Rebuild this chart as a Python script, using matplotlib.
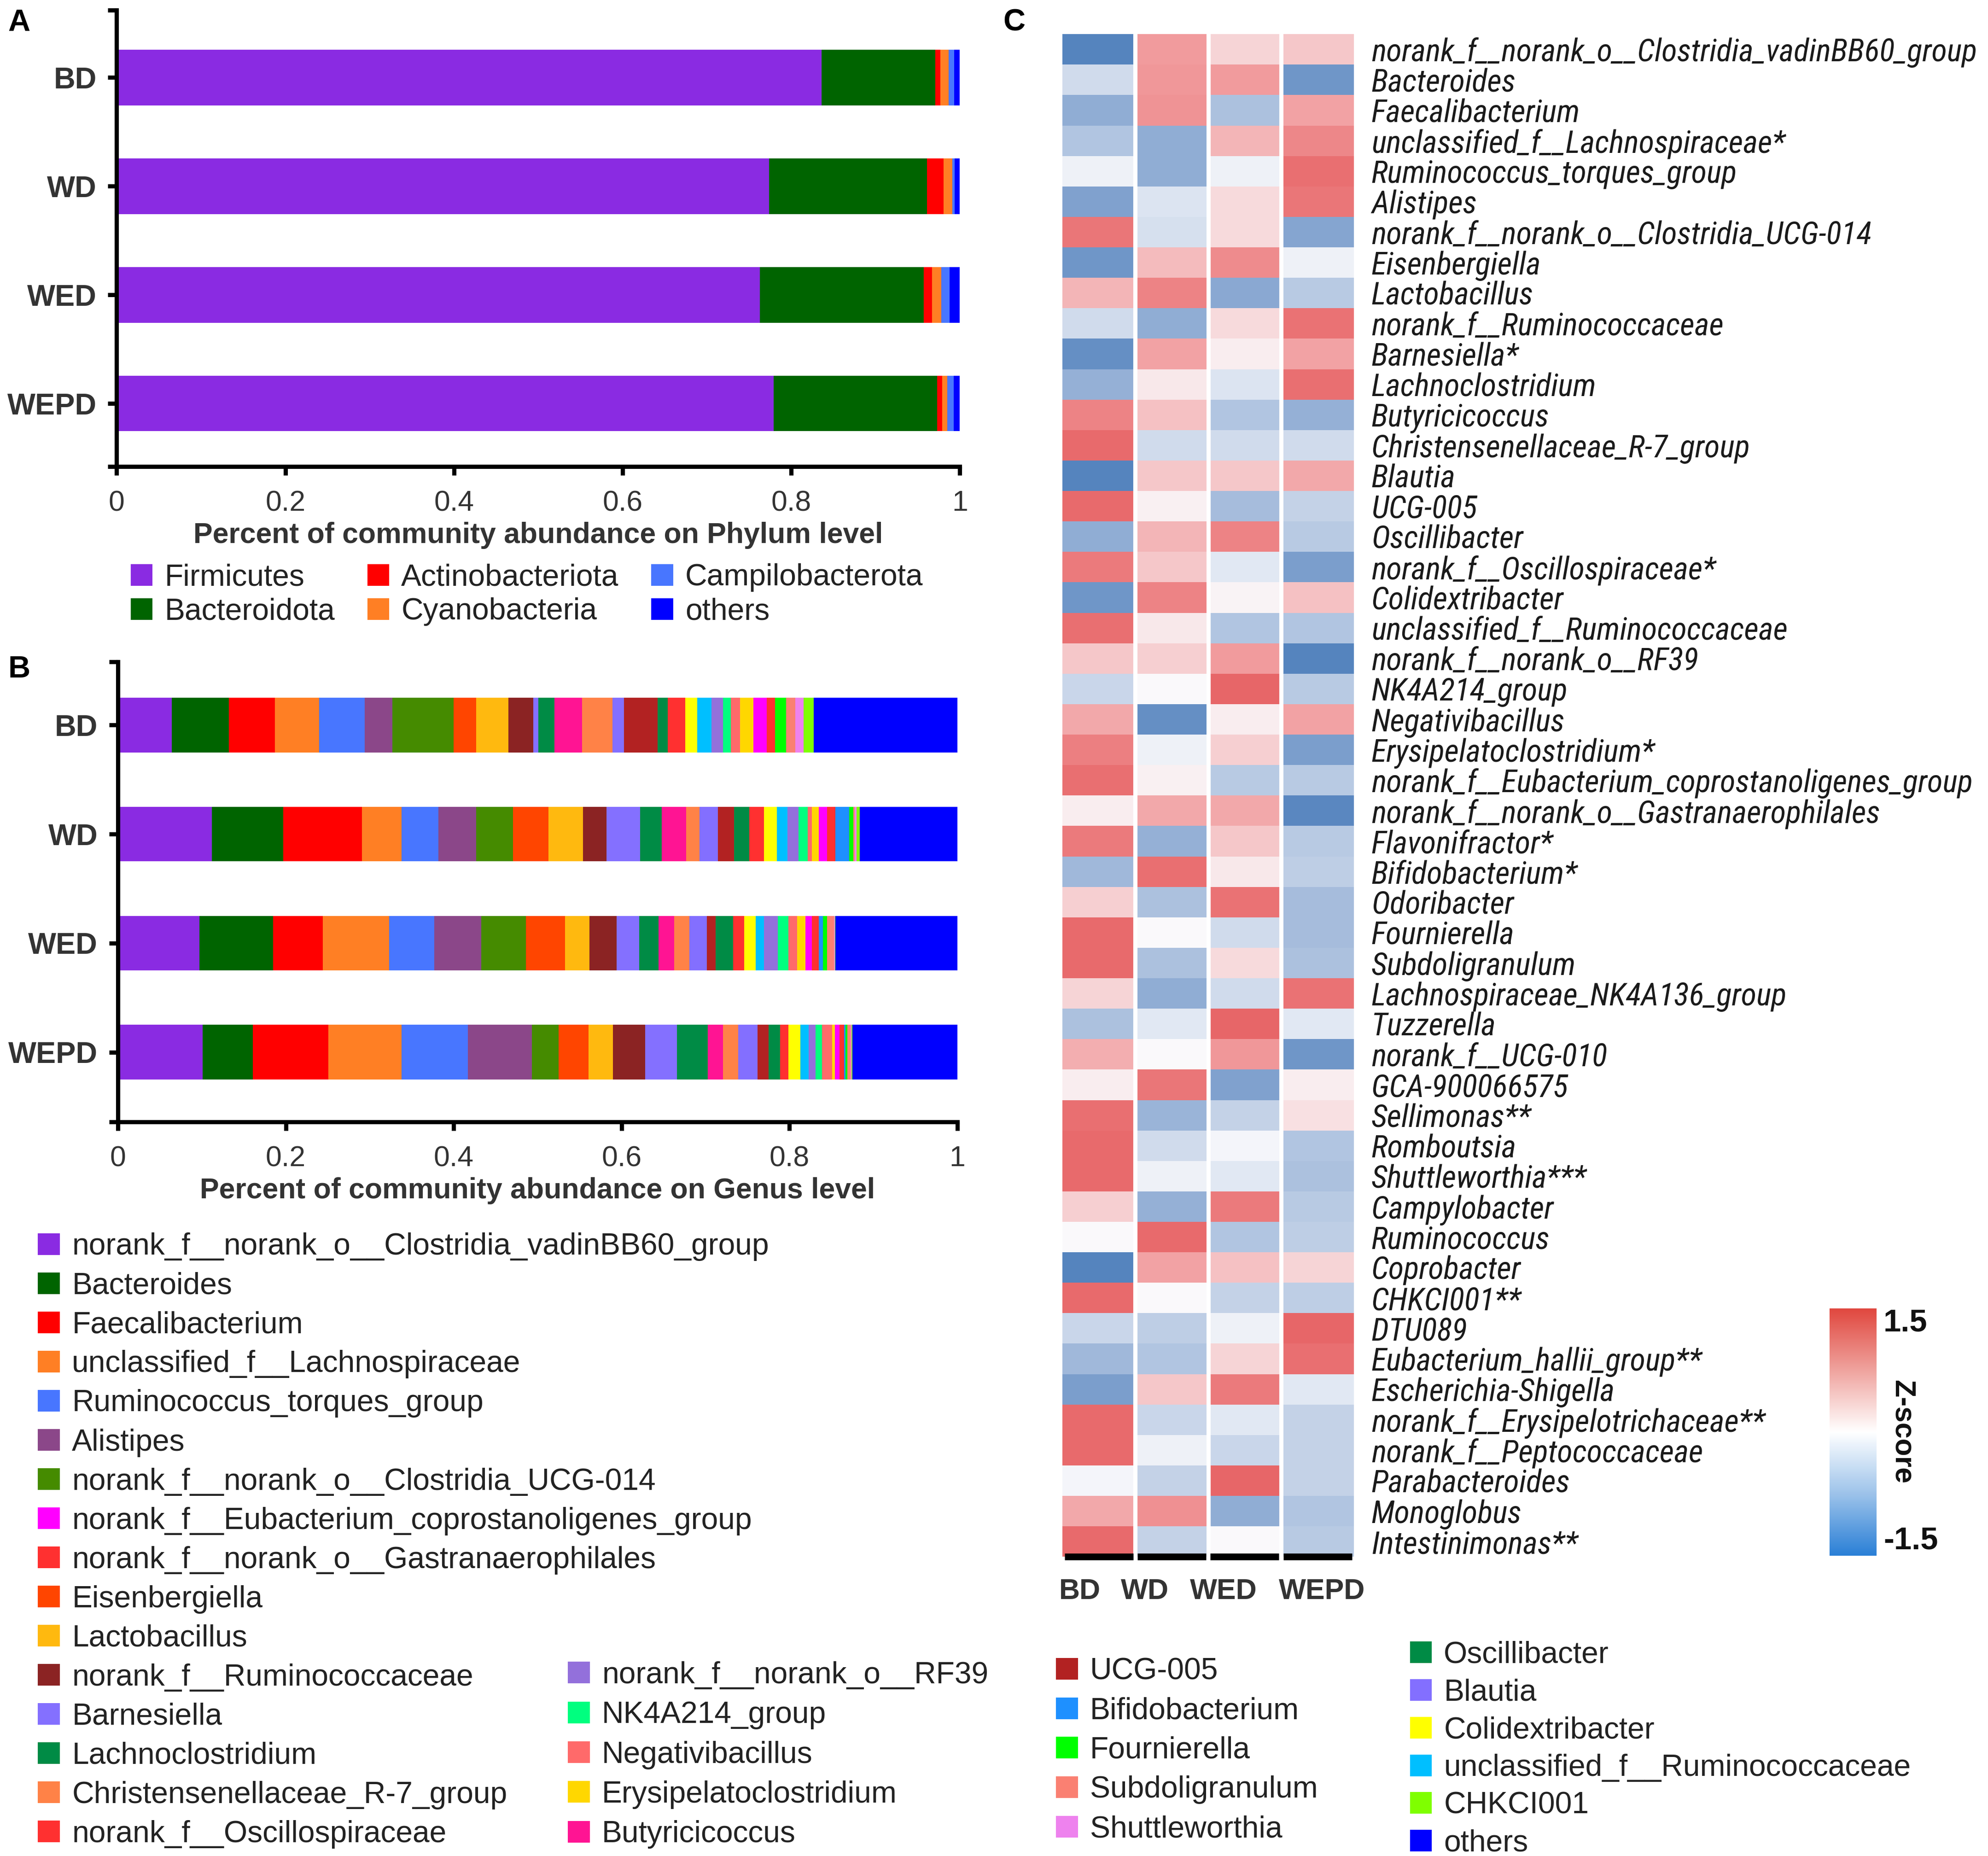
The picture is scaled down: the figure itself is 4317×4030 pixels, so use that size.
import matplotlib
matplotlib.use('Agg')
import matplotlib.pyplot as plt
import numpy as np
from matplotlib.patches import Patch
from matplotlib.colors import LinearSegmentedColormap, Normalize
from matplotlib.cm import ScalarMappable
from matplotlib.textpath import TextPath
from matplotlib import font_manager

plt.rcParams['font.family'] = ['Liberation Sans', 'DejaVu Sans']

groups = ['BD', 'WD', 'WED', 'WEPD']

# ---- A: phylum level ----
phyla = ['Firmicutes', 'Bacteroidota', 'Actinobacteriota', 'Cyanobacteria', 'Campilobacterota', 'others']
phylum_colors = ['#8A2BE2', '#006400', '#FF0000', '#FF7F24', '#4876FF', '#0000FF']
firmicutes = [0.836, 0.774, 0.763, 0.779]
bacteroidota = [0.135, 0.187, 0.194, 0.194]
actinobacteriota = [0.006, 0.020, 0.010, 0.006]
cyanobacteria = [0.010, 0.010, 0.011, 0.006]
campilobacterota = [0.0065, 0.003, 0.010, 0.0075]
phylum_others = [0.0065, 0.006, 0.012, 0.0075]
phylum_data = [firmicutes, bacteroidota, actinobacteriota, cyanobacteria, campilobacterota, phylum_others]

# ---- B: genus level (stacking order) ----
genera = ['norank_f__norank_o__Clostridia_vadinBB60_group', 'Bacteroides', 'Faecalibacterium',
          'unclassified_f__Lachnospiraceae', 'Ruminococcus_torques_group', 'Alistipes',
          'norank_f__norank_o__Clostridia_UCG-014', 'Eisenbergiella', 'Lactobacillus',
          'norank_f__Ruminococcaceae', 'Barnesiella', 'Lachnoclostridium', 'Butyricicoccus',
          'Christensenellaceae_R-7_group', 'Blautia', 'UCG-005', 'Oscillibacter',
          'norank_f__Oscillospiraceae', 'Colidextribacter', 'unclassified_f__Ruminococcaceae',
          'norank_f__norank_o__RF39', 'NK4A214_group', 'Negativibacillus', 'Erysipelatoclostridium',
          'norank_f__Eubacterium_coprostanoligenes_group', 'norank_f__norank_o__Gastranaerophilales',
          'Bifidobacterium', 'Fournierella', 'Subdoligranulum', 'Shuttleworthia', 'CHKCI001', 'others']
genus_colors = ['#8A2BE2', '#006400', '#FF0000', '#FF7F24', '#4876FF', '#8B4789', '#458B00', '#FF4500',
                '#FFB90F', '#8B2323', '#8470FF', '#008B45', '#FF1493', '#FF8247', '#836FFF', '#B22222',
                '#008B45', '#FF3030', '#FFFF00', '#00BFFF', '#9370DB', '#00FF7F', '#FF6A6A', '#FFD700',
                '#FF00FF', '#FF3030', '#1E90FF', '#00FF00', '#FA8072', '#EE82EE', '#7FFF00', '#0000FF']
genus_BD = [0.064, 0.068, 0.055, 0.053, 0.054, 0.033, 0.073, 0.027, 0.038, 0.030, 0.006, 0.019, 0.033,
            0.036, 0.014, 0.040, 0.012, 0.021, 0.014, 0.017, 0.014, 0.009, 0.011, 0.016, 0.016, 0.010,
            0.000, 0.013, 0.011, 0.010, 0.012, 0.171]
genus_WD = [0.112, 0.085, 0.094, 0.047, 0.044, 0.045, 0.044, 0.042, 0.041, 0.028, 0.040, 0.026, 0.029,
            0.016, 0.022, 0.019, 0.018, 0.018, 0.015, 0.013, 0.013, 0.011, 0.005, 0.008, 0.010, 0.010,
            0.016, 0.005, 0.002, 0.002, 0.004, 0.118]
genus_WED = [0.097, 0.088, 0.059, 0.079, 0.054, 0.056, 0.053, 0.047, 0.029, 0.032, 0.027, 0.023, 0.019,
             0.018, 0.021, 0.010, 0.021, 0.013, 0.014, 0.010, 0.016, 0.013, 0.010, 0.010, 0.008, 0.008,
             0.005, 0.005, 0.008, 0.001, 0.001, 0.145]
genus_WEPD = [0.101, 0.060, 0.090, 0.087, 0.079, 0.076, 0.032, 0.036, 0.029, 0.038, 0.038, 0.037, 0.018,
              0.018, 0.023, 0.013, 0.014, 0.010, 0.014, 0.010, 0.008, 0.008, 0.012, 0.003, 0.006, 0.005,
              0.002, 0.002, 0.004, 0.001, 0.001, 0.127]

# legend columns as laid out in the figure
legend_col1 = ['norank_f__norank_o__Clostridia_vadinBB60_group', 'Bacteroides', 'Faecalibacterium',
               'unclassified_f__Lachnospiraceae', 'Ruminococcus_torques_group', 'Alistipes',
               'norank_f__norank_o__Clostridia_UCG-014', 'norank_f__Eubacterium_coprostanoligenes_group',
               'norank_f__norank_o__Gastranaerophilales', 'Eisenbergiella', 'Lactobacillus',
               'norank_f__Ruminococcaceae', 'Barnesiella', 'Lachnoclostridium',
               'Christensenellaceae_R-7_group', 'norank_f__Oscillospiraceae']
legend_col2 = ['norank_f__norank_o__RF39', 'NK4A214_group', 'Negativibacillus', 'Erysipelatoclostridium',
               'Butyricicoccus']
legend_col3 = ['UCG-005', 'Bifidobacterium', 'Fournierella', 'Subdoligranulum', 'Shuttleworthia']
legend_col4 = ['Oscillibacter', 'Blautia', 'Colidextribacter', 'unclassified_f__Ruminococcaceae',
               'CHKCI001', 'others']

# ---- C: heatmap z-scores ----
heat_labels = ['norank_f__norank_o__Clostridia_vadinBB60_group', 'Bacteroides', 'Faecalibacterium',
               'unclassified_f__Lachnospiraceae*', 'Ruminococcus_torques_group', 'Alistipes',
               'norank_f__norank_o__Clostridia_UCG-014', 'Eisenbergiella', 'Lactobacillus',
               'norank_f__Ruminococcaceae', 'Barnesiella*', 'Lachnoclostridium', 'Butyricicoccus',
               'Christensenellaceae_R-7_group', 'Blautia', 'UCG-005', 'Oscillibacter',
               'norank_f__Oscillospiraceae*', 'Colidextribacter', 'unclassified_f__Ruminococcaceae',
               'norank_f__norank_o__RF39', 'NK4A214_group', 'Negativibacillus', 'Erysipelatoclostridium*',
               'norank_f__Eubacterium_coprostanoligenes_group', 'norank_f__norank_o__Gastranaerophilales',
               'Flavonifractor*', 'Bifidobacterium*', 'Odoribacter', 'Fournierella', 'Subdoligranulum',
               'Lachnospiraceae_NK4A136_group', 'Tuzzerella', 'norank_f__UCG-010', 'GCA-900066575',
               'Sellimonas**', 'Romboutsia', 'Shuttleworthia***', 'Campylobacter', 'Ruminococcus',
               'Coprobacter', 'CHKCI001**', 'DTU089', 'Eubacterium_hallii_group**', 'Escherichia-Shigella',
               'norank_f__Erysipelotrichaceae**', 'norank_f__Peptococcaceae', 'Parabacteroides',
               'Monoglobus', 'Intestinimonas**']
z_BD = [-1.45, -0.35, -0.9, -0.6, -0.1, -1.05, 1.2, -1.2, 0.55, -0.35, -1.3, -0.85, 1.05, 1.35, -1.45,
        1.35, -0.9, 1.15, -1.2, 1.3, 0.4, -0.4, 0.65, 1.1, 1.3, 0.1, 1.15, -0.75, 0.35, 1.35, 1.35, 0.3,
        -0.65, 0.6, 0.1, 1.3, 1.35, 1.35, 0.35, 0.0, -1.45, 1.35, -0.4, -0.75, -1.1, 1.35, 1.35, -0.05,
        0.65, 1.35]
z_WD = [0.75, 0.8, 0.85, -0.9, -0.9, -0.25, -0.3, 0.5, 1.05, -0.9, 0.7, 0.15, 0.45, -0.35, 0.4, 0.08,
        0.55, 0.4, 1.05, 0.15, 0.35, 0.0, -1.3, -0.1, 0.08, 0.65, -0.85, 1.3, -0.65, 0.0, -0.65, -0.9,
        -0.2, 0.0, 1.2, -0.8, -0.35, -0.1, -0.85, 1.35, 0.7, 0.0, -0.5, -0.6, 0.4, -0.4, -0.1, -0.45,
        0.9, -0.45]
z_WED = [0.3, 0.75, -0.65, 0.55, -0.1, 0.25, 0.25, 0.95, -0.95, 0.25, 0.1, -0.25, -0.6, -0.35, 0.4, -0.7,
         1.05, -0.2, 0.05, -0.6, 0.75, 1.4, 0.1, 0.35, -0.55, 0.65, 0.4, 0.15, 1.25, -0.35, 0.25, -0.35,
         1.4, 0.8, -1.05, -0.45, -0.05, -0.2, 1.15, -0.6, 0.45, -0.45, -0.1, 0.3, 1.15, -0.2, -0.4, 1.4,
         -0.9, 0.0]
z_WEPD = [0.4, -1.2, 0.7, 1.0, 1.3, 1.2, -1.0, -0.1, -0.55, 1.25, 0.7, 1.3, -0.85, -0.35, 0.65, -0.45,
          -0.55, -1.1, 0.45, -0.6, -1.45, -0.55, 0.7, -1.1, -0.55, -1.4, -0.55, -0.5, -0.7, -0.7, -0.65,
          1.25, -0.2, -1.2, 0.1, 0.2, -0.6, -0.65, -0.55, -0.5, 0.3, -0.5, 1.4, 1.3, -0.2, -0.45, -0.45,
          -0.45, -0.6, -0.55]

# narrow italic font for the heatmap names, if one is installed
heat_fp = font_manager.FontProperties(family=['Liberation Sans', 'DejaVu Sans'], style='italic')
for fam in ['Liberation Sans Narrow', 'Roboto Condensed', 'Noto Sans', 'Open Sans', 'DejaVu Sans']:
    try:
        path = font_manager.findfont(font_manager.FontProperties(family=fam, style='italic',
                                                                 stretch='condensed'),
                                     fallback_to_default=False)
    except ValueError:
        continue
    if 'Narrow' in path or 'Condensed' in path or 'Cond' in path:
        heat_fp = font_manager.FontProperties(fname=path)
        break
# size so the longest name spans about as wide as in the original (~319 pt)
w100 = TextPath((0, 0), heat_labels[0], size=100, prop=heat_fp).get_extents().width
heat_fp.set_size(min(16.5, 100 * 319 / w100))

TXT = '#222222'
LEG = 15.8
fig = plt.figure(figsize=(4317 / 300, 4030 / 300), dpi=300)


def style_bar_axis(ax, ylim, xlabel):
    ax.set_xlim(0, 1)
    ax.set_ylim(*ylim)
    for s in ['top', 'right']:
        ax.spines[s].set_visible(False)
    for s in ['left', 'bottom']:
        ax.spines[s].set_linewidth(2.2)
    ax.set_yticks(np.arange(len(groups)), groups, fontweight='bold', fontsize=15.5, color='#333333')
    ax.set_yticks(list(ylim), minor=True)
    ax.set_xticks([0, 0.2, 0.4, 0.6, 0.8, 1.0], ['0', '0.2', '0.4', '0.6', '0.8', '1'],
                  fontsize=15, color='#333333')
    ax.tick_params(axis='both', which='both', direction='out', length=4.5, width=2.2)
    ax.tick_params(axis='y', pad=6)
    ax.tick_params(axis='x', pad=7.5)
    ax.set_xlabel(xlabel, fontsize=15, fontweight='bold', color='#333333', labelpad=2.5)


# ---- panel A ----
axA = fig.add_axes([0.0587, 0.7486, 0.4241, 0.2459])
yA = np.arange(len(groups))
left = np.zeros(len(groups))
for name, col, vals in zip(phyla, phylum_colors, phylum_data):
    axA.barh(yA, vals, left=left, height=0.51, color=col, label=name, linewidth=0)
    left += np.array(vals)
style_bar_axis(axA, (3.58, -0.62), 'Percent of community abundance on Phylum level')

handlesA = [Patch(facecolor=c, linewidth=0) for c in phylum_colors]
fig.legend(handlesA, phyla, ncol=3, loc='upper left', bbox_to_anchor=(0.0657, 0.6965),
           frameon=False, fontsize=LEG, handlelength=0.72, handleheight=0.72, handletextpad=0.4,
           labelspacing=0.185, columnspacing=1.07, borderpad=0, borderaxespad=0, labelcolor=TXT)

# ---- panel B ----
axB = fig.add_axes([0.0593, 0.3955, 0.4222, 0.2479])
genus_table = np.array([genus_BD, genus_WD, genus_WED, genus_WEPD])
left = np.zeros(len(groups))
for k, (name, col) in enumerate(zip(genera, genus_colors)):
    axB.barh(yA, genus_table[:, k], left=left, height=0.5, color=col, linewidth=0)
    left += genus_table[:, k]
style_bar_axis(axB, (3.64, -0.58), 'Percent of community abundance on Genus level')

color_of = dict(zip(genera, genus_colors))
for names, x0, y0, sp in [(legend_col1, 0.0191, 0.3359, 0.35), (legend_col2, 0.2857, 0.1050, 0.37),
                          (legend_col3, 0.5312, 0.1071, 0.36), (legend_col4, 0.7092, 0.1159, 0.30)]:
    hs = [Patch(facecolor=color_of[n], linewidth=0) for n in names]
    fig.legend(hs, names, loc='upper left', bbox_to_anchor=(x0, y0), frameon=False, fontsize=LEG,
               handlelength=0.72, handleheight=0.72, handletextpad=0.4, labelspacing=sp,
               borderpad=0, borderaxespad=0, labelcolor=TXT)

# ---- panel C ----
cell_cmap = LinearSegmentedColormap.from_list(
    'cells', [(0.0, '#5080BC'), (0.25, '#A0B8DA'), (0.5, '#FAFAFC'), (0.75, '#F19C9E'), (1.0, '#E65E60')])
bar_cmap = LinearSegmentedColormap.from_list(
    'zbar', [(0.0, '#2A7FD6'), (0.25, '#9DC3EA'), (0.5, '#FFFFFF'), (0.75, '#EFA39E'), (1.0, '#E0473E')])

axC = fig.add_axes([0.5344, 0.1612, 0.1467, 0.8204])
Z = np.column_stack([z_BD, z_WD, z_WED, z_WEPD])
nrow = Z.shape[0]
axC.pcolormesh(np.arange(5) - 0.5, np.arange(nrow + 1) - 0.5, Z, cmap=cell_cmap, vmin=-1.5, vmax=1.5)
axC.set_xlim(-0.5, 3.5)
axC.set_ylim(nrow - 0.5, -0.5)
for xb in [0.5, 1.5, 2.5]:
    axC.axvline(xb, color='white', lw=2.2)
axC.hlines([nrow - 0.5] * 4, np.arange(4) - 0.47, np.arange(4) + 0.47, color='black', lw=3.5,
           clip_on=False)
for s in axC.spines.values():
    s.set_visible(False)
axC.yaxis.tick_right()
axC.set_yticks(np.arange(nrow))
axC.set_yticklabels(heat_labels, color='#1a1a1a', fontproperties=heat_fp)
# group names sit as one evenly spaced line under the columns, as in the original
axC.set_xticks([-0.26, 0.63, 1.71, 3.06], groups, fontsize=15, fontweight='bold', color='#333333')
axC.tick_params(axis='y', length=0, pad=9)
axC.tick_params(axis='x', length=0, pad=11)

cax = fig.add_axes([0.9203, 0.1619, 0.0236, 0.1332])
cb = fig.colorbar(ScalarMappable(norm=Normalize(-1.5, 1.5), cmap=bar_cmap), cax=cax)
cb.outline.set_visible(False)
cb.set_ticks([])
cax.text(1.15, 1.0, '1.5', transform=cax.transAxes, ha='left', va='top', fontsize=16.5,
         fontweight='bold', color='#111111')
cax.text(1.15, 0.0, '-1.5', transform=cax.transAxes, ha='left', va='bottom', fontsize=16.5,
         fontweight='bold', color='#111111')
cax.text(1.55, 0.5, 'Z-score', transform=cax.transAxes, ha='center', va='center', rotation=270,
         fontsize=15, fontweight='bold', color='#111111')

# panel letters
for letter, x, y in [('A', 0.0096, 0.9877), ('B', 0.0096, 0.6393), ('C', 0.5102, 0.9877)]:
    fig.text(x, y, letter, fontsize=16, fontweight='bold', ha='center', va='center')

fig.savefig('out.png', dpi=300)
